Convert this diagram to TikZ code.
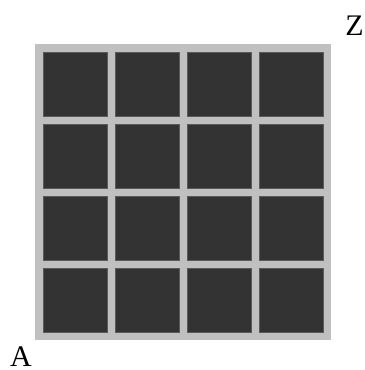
\documentclass[tikz,border=0pt]{standalone}
\usepackage{fontspec}
\setmainfont{Liberation Serif}
\usepackage{tikz}
\definecolor{frame}{RGB}{192,192,192}
\definecolor{cell}{RGB}{51,51,51}
\definecolor{celledge}{RGB}{90,90,90}

\begin{document}
\begin{tikzpicture}[x=1bp,y=1bp,
  cellbox/.style={fill=cell,draw=celledge,line width=0.8bp},
  corner/.style={font=\fontsize{30}{30}\selectfont,anchor=base,inner sep=0pt}]
  \useasboundingbox (-35,-30) rectangle (330,340);
  \fill[frame] (0,0) rectangle (296,296);
  \foreach \i in {0,...,3}{
    \foreach \j in {0,...,3}{
      \filldraw[cellbox] (8+72*\i,8+72*\j) rectangle ++(64,64);
    }
  }
  \node[corner] (z) at (319.5,305) {Z};
  \node[corner] (a) at (-14,-26) {A};
\end{tikzpicture}
\end{document}
